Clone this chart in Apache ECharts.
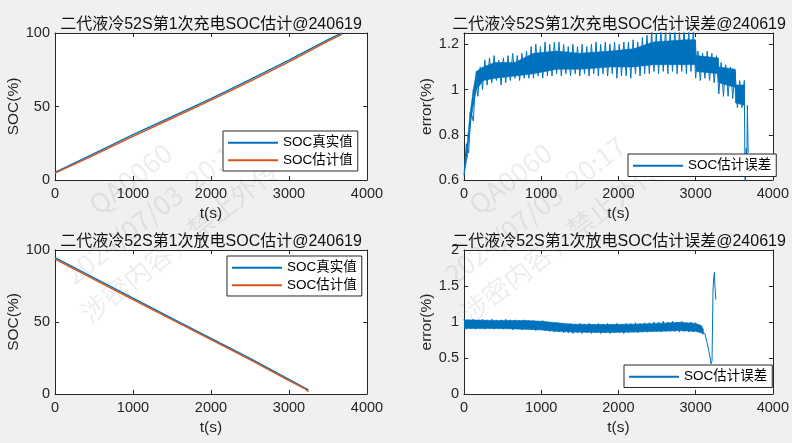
<!DOCTYPE html>
<html>
<head>
<meta charset="utf-8">
<script src="https://cdn.jsdelivr.net/npm/echarts@6/dist/echarts.min.js"></script>
<style>
html, body { margin: 0; padding: 0; background: #f0f0f0; }
#chart { width: 792px; height: 443px; }
</style>
</head>
<body>
<div id="chart"></div>
<script>
// 充电 SOC 真实值 / 估计值
const chargeT = [0, 500, 1000, 1500, 2000, 2500, 3000, 3500, 3680];
const chargeTrue = [5.2, 18.0, 30.8, 43.1, 55.4, 68.3, 81.6, 95.5, 100];
const chargeEst = [4.6, 16.9, 29.7, 42.0, 54.3, 67.1, 80.4, 94.5, 99.1];

// 放电 SOC 真实值 / 估计值
const dischargeT = [0, 500, 1000, 1500, 2000, 2500, 3000, 3200, 3250];
const dischargeTrue = [94.7, 80.6, 66.5, 52.5, 38.6, 24.7, 10.2, 4.2, 2.8];
const dischargeEst = [93.7, 79.6, 65.5, 51.6, 37.7, 23.8, 9.25, 3.8, 1.5];

// 误差曲线的尖峰，采样间隔 30 s
const ERR_STEP = 30;
const chargeErr = [
  0.62, 0.76, 0.72, 0.90, 0.86, 1.04, 0.97, 1.10, 1.00, 1.13,
  1.02, 1.14, 1.03, 1.15, 1.04, 1.13, 1.02, 1.14, 1.03, 1.15,
  1.04, 1.16, 1.05, 1.15, 1.04, 1.16, 1.05, 1.17, 1.05, 1.19,
  1.05, 1.20, 1.06, 1.19, 1.05, 1.21, 1.06, 1.20, 1.06, 1.21,
  1.07, 1.21, 1.06, 1.20, 1.07, 1.19, 1.06, 1.20, 1.07, 1.19,
  1.06, 1.20, 1.07, 1.19, 1.06, 1.20, 1.07, 1.21, 1.06, 1.20,
  1.07, 1.21, 1.06, 1.20, 1.07, 1.21, 1.05, 1.20, 1.06, 1.21,
  1.06, 1.21, 1.05, 1.22, 1.07, 1.21, 1.06, 1.23, 1.07, 1.24,
  1.07, 1.26, 1.08, 1.25, 1.07, 1.26, 1.08, 1.27, 1.07, 1.26,
  1.08, 1.27, 1.07, 1.26, 1.08, 1.27, 1.07, 1.26, 1.08, 1.27,
  1.05, 1.17, 1.04, 1.16, 1.05, 1.17, 1.04, 1.16, 1.03, 1.15,
  0.98, 1.12, 0.97, 1.11, 0.97, 1.10, 0.96, 1.08, 0.92, 1.04,
  0.92, 1.04
];
const chargeErrTailT = [3640, 3655, 3662, 3670, 3680];
const chargeErrTail = [0.55, 0.74, 0.66, 0.93, 0.72];

// 充电误差的密集带（下沿 / 上沿）
const chargeBandT = [0, 40, 80, 120, 160, 250, 400, 660, 900, 1200, 1500, 1900, 2200, 2450, 2870, 2995,
  3010, 3290, 3300, 3510, 3520, 3630];
const chargeBandLow = [0.62, 0.70, 0.84, 0.93, 1.00, 1.04, 1.05, 1.06, 1.07, 1.09, 1.09, 1.10, 1.10, 1.11, 1.11, 1.11,
  1.08, 1.07, 1.03, 1.01, 0.94, 0.93];
const chargeBandHigh = [0.63, 0.76, 0.90, 1.00, 1.08, 1.10, 1.12, 1.12, 1.16, 1.17, 1.16, 1.17, 1.18, 1.21, 1.22, 1.22,
  1.15, 1.14, 1.10, 1.09, 1.02, 1.02];

const dischargeErr = [
  1.04, 0.90, 1.03, 0.91, 1.04, 0.90, 1.03, 0.91, 1.04, 0.90,
  1.03, 0.91, 1.04, 0.90, 1.03, 0.91, 1.03, 0.90, 1.04, 0.91,
  1.03, 0.89, 1.03, 0.90, 1.02, 0.89, 1.03, 0.90, 1.02, 0.89,
  1.02, 0.88, 1.01, 0.89, 1.02, 0.88, 1.00, 0.87, 0.99, 0.86,
  0.99, 0.86, 0.98, 0.85, 0.97, 0.85, 0.98, 0.84, 0.97, 0.85,
  0.98, 0.84, 0.97, 0.85, 0.98, 0.84, 0.97, 0.85, 0.98, 0.84,
  0.97, 0.85, 0.98, 0.84, 0.97, 0.85, 0.98, 0.85, 0.97, 0.84,
  0.98, 0.85, 0.98, 0.86, 0.99, 0.85, 0.98, 0.86, 0.99, 0.86,
  0.99, 0.86, 1.00, 0.87, 1.00, 0.86, 1.01, 0.87, 1.00, 0.87,
  1.01, 0.87, 1.00, 0.86, 1.01, 0.87, 0.99, 0.86, 1.00, 0.86,
  0.99, 0.86, 0.96, 0.85
];
const dischargeErrTailT = [3120, 3150, 3175, 3200, 3212, 3225, 3235, 3243, 3250, 3261];
const dischargeErrTail = [0.84, 0.70, 0.58, 0.42, 0.46, 1.45, 1.62, 1.69, 1.50, 1.31];

// 放电误差的密集带（下沿 / 上沿）
const dischargeBandT = [0, 400, 800, 1000, 1200, 1400, 1800, 2200, 2500, 2800, 3000, 3070, 3100];
const dischargeBandLow = [0.91, 0.91, 0.90, 0.89, 0.87, 0.86, 0.855, 0.86, 0.87, 0.88, 0.87, 0.85, 0.83];
const dischargeBandHigh = [1.03, 1.02, 1.02, 1.01, 0.99, 0.97, 0.965, 0.97, 0.98, 0.995, 0.98, 0.95, 0.90];

const titles = [
  '二代液冷52S第1次充电SOC估计@240619',
  '二代液冷52S第1次充电SOC估计误差@240619',
  '二代液冷52S第1次放电SOC估计@240619',
  '二代液冷52S第1次放电SOC估计误差@240619'
];
const watermarkLines = ['QA0060', '2024/07/03  20:17', '涉密内容，禁止外传'];

const BLUE = '#0072BD';
const ORANGE = '#D95319';
const AXIS = '#262626';
const FONT = "'Liberation Sans', 'Noto Sans CJK SC', Arial, sans-serif";

const grids = [
  { left: 55, top: 33, width: 312, height: 147 },
  { left: 464, top: 33, width: 310, height: 147 },
  { left: 55, top: 250, width: 312, height: 144 },
  { left: 464, top: 250, width: 310, height: 144 }
];
const yRanges = [
  { min: 0, max: 100, interval: 50, name: 'SOC(%)', gap: 34 },
  { min: 0.6, max: 1.25, interval: 0.2, name: 'error(%)', gap: 28 },
  { min: 0, max: 100, interval: 50, name: 'SOC(%)', gap: 34 },
  { min: 0, max: 2, interval: 0.5, name: 'error(%)', gap: 28 }
];

function zip(ts, vs) {
  return ts.map((t, i) => [t, vs[i]]);
}
function errData(body, tailT, tail) {
  return body.map((v, i) => [i * ERR_STEP, v]).concat(zip(tailT, tail));
}

function makeX(g, main) {
  return {
    gridIndex: g, type: 'value', min: 0, max: 4000, interval: 1000,
    position: main ? 'bottom' : 'top',
    axisLine: { show: true, onZero: false, lineStyle: { color: AXIS, width: 1 } },
    axisTick: { show: true, inside: true, length: 4, lineStyle: { color: AXIS } },
    axisLabel: { show: main, color: AXIS, fontSize: 14.5, fontFamily: FONT, margin: 7,
      formatter: v => String(v) },
    splitLine: { show: false },
    name: main ? 't(s)' : '', nameLocation: 'middle', nameGap: 26,
    nameTextStyle: { color: AXIS, fontSize: 15.5, fontFamily: FONT }
  };
}
function makeY(g, main) {
  const r = yRanges[g];
  return {
    gridIndex: g, type: 'value', min: r.min, max: r.max, interval: r.interval,
    position: main ? 'left' : 'right',
    axisLine: { show: true, onZero: false, lineStyle: { color: AXIS, width: 1 } },
    axisTick: { show: true, inside: true, length: 4, lineStyle: { color: AXIS } },
    axisLabel: { show: main, color: AXIS, fontSize: 14.5, fontFamily: FONT, margin: 5,
      showMaxLabel: r.max % r.interval === 0 },
    splitLine: { show: false },
    name: main ? r.name : '', nameLocation: 'middle', nameGap: r.gap,
    nameTextStyle: { color: AXIS, fontSize: 15.5, fontFamily: FONT }
  };
}

function lineSeries(name, g, data, color, width) {
  return {
    type: 'line', name: name, xAxisIndex: g * 2, yAxisIndex: g * 2,
    data: data, symbol: 'none', showSymbol: false, animation: false,
    lineStyle: { color: color, width: width }, itemStyle: { color: color },
    clip: true
  };
}

// 误差的实心带：相邻两个采样点之间画一个四边形
function bandSeries(g, ts, low, high) {
  return {
    type: 'custom', xAxisIndex: g * 2, yAxisIndex: g * 2,
    silent: true, animation: false, clip: true,
    data: ts.map((t, i) => [t, low[i], high[i]]),
    encode: { x: 0, y: [1, 2] },
    renderItem: function (params, api) {
      const i = params.dataIndex;
      if (i >= ts.length - 1) return null;
      const pts = [
        api.coord([ts[i], low[i]]),
        api.coord([ts[i + 1], low[i + 1]]),
        api.coord([ts[i + 1], high[i + 1]]),
        api.coord([ts[i], high[i]])
      ];
      return {
        type: 'polygon', shape: { points: pts },
        style: { fill: BLUE, stroke: BLUE, lineWidth: 0.6 }
      };
    }
  };
}

function legendAt(left, top, names) {
  return {
    left: left, top: top, orient: 'vertical', icon: 'rect',
    itemWidth: 50, itemHeight: 2, itemGap: 4, padding: [5, 5, 4, 5],
    backgroundColor: '#fff', borderColor: AXIS, borderWidth: 1, borderRadius: 0,
    textStyle: { fontSize: 13.5, color: '#000', fontFamily: FONT },
    selectedMode: false, data: names
  };
}

const chart = echarts.init(document.getElementById('chart'));

const option = {
  backgroundColor: '#f0f0f0',
  animation: false,
  title: titles.map((t, i) => ({
    text: t, padding: 0, textAlign: 'center',
    left: grids[i].left + grids[i].width / 2, top: grids[i].top - 16,
    textStyle: { fontSize: 16, fontWeight: 'normal', color: '#111', fontFamily: FONT }
  })),
  grid: grids.map(g => Object.assign({ show: true, backgroundColor: '#fff', borderWidth: 0, containLabel: false }, g)),
  xAxis: [0, 1, 2, 3].flatMap(g => [makeX(g, true), makeX(g, false)]),
  yAxis: [0, 1, 2, 3].flatMap(g => [makeY(g, true), makeY(g, false)]),
  legend: [
    legendAt(223, 131, ['SOC真实值', 'SOC估计值']),
    legendAt(628, 154, ['SOC估计误差']),
    legendAt(227, 256, ['SOC真实值', 'SOC估计值']),
    legendAt(624, 365, ['SOC估计误差'])
  ],
  series: [
    lineSeries('SOC真实值', 0, zip(chargeT, chargeTrue), BLUE, 1.4),
    lineSeries('SOC估计值', 0, zip(chargeT, chargeEst), ORANGE, 1.4),
    bandSeries(1, chargeBandT, chargeBandLow, chargeBandHigh),
    lineSeries('SOC估计误差', 1, errData(chargeErr, chargeErrTailT, chargeErrTail), BLUE, 1),
    lineSeries('SOC真实值', 2, zip(dischargeT, dischargeTrue), BLUE, 1.4),
    lineSeries('SOC估计值', 2, zip(dischargeT, dischargeEst), ORANGE, 1.4),
    bandSeries(3, dischargeBandT, dischargeBandLow, dischargeBandHigh),
    lineSeries('SOC估计误差', 3, errData(dischargeErr, dischargeErrTailT, dischargeErrTail), BLUE, 1)
  ],
  graphic: [155, 535].map(cx => ({
    type: 'group', x: cx, y: 210, rotation: Math.PI * 38 / 180, silent: true, z: 100,
    children: watermarkLines.map((s, i) => ({
      type: 'text', x: 0, y: (i - 1) * 40,
      style: { text: s, fill: 'rgba(0,0,0,0.07)', font: "27px 'Noto Sans CJK SC'",
        align: 'center', verticalAlign: 'middle' }
    }))
  }))
};

chart.setOption(option);
</script>
</body>
</html>
